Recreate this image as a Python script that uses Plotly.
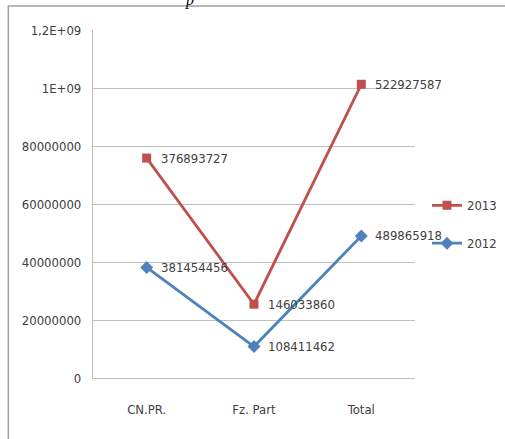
import numpy as np
import plotly.graph_objects as go

categories = ["CN.PR.", "Fz. Part", "Total"]
values_2012 = [381454456, 108411462, 489865918]
values_2013 = [376893727, 146033860, 522927587]
tick_vals = [0, 200000000, 400000000, 600000000, 800000000, 1000000000, 1200000000]
tick_text = ["0", "20000000", "40000000", "60000000", "80000000", "1E+09", "1,2E+09"]

FONT = "DejaVu Sans Condensed, sans-serif"
TXT = "#404040"
RED = "#C0504D"
BLUE = "#4F81BD"

# stacked line chart: 2013 sits on top of 2012
stack_2013 = (np.array(values_2012) + np.array(values_2013)).tolist()

fig = go.Figure()
fig.add_trace(go.Scatter(
    x=categories, y=stack_2013, name="2013", mode="lines+markers",
    legendgroup="a",
    line=dict(color=RED, width=2.8),
    marker=dict(symbol="square", size=9, color=RED),
))
fig.add_trace(go.Scatter(
    x=categories, y=values_2012, name="2012", mode="lines+markers",
    legendgroup="b",
    line=dict(color=BLUE, width=2.8),
    marker=dict(symbol="diamond", size=10, color=BLUE),
))

# data labels: each series' own value, placed right of its point
labels = []
for ys, vals in ((stack_2013, values_2013), (values_2012, values_2012)):
    for cat, y, v in zip(categories, ys, vals):
        labels.append(dict(x=cat, y=y, text=str(v), xref="x", yref="y",
                           xanchor="left", yanchor="middle", xshift=12,
                           showarrow=False,
                           font=dict(family=FONT, size=13, color=TXT)))

labels.append(dict(text="<i>p</i>", xref="paper", yref="paper",
                   x=0.30, y=1.086, xanchor="center", yanchor="middle",
                   showarrow=False,
                   font=dict(family="Liberation Serif", size=16, color="black")))

fig.update_layout(
    width=505, height=439,
    margin=dict(l=93, r=89, t=30, b=61),
    paper_bgcolor="white", plot_bgcolor="white",
    font=dict(family=FONT, size=13, color=TXT),
    showlegend=True,
    legend=dict(xref="container", yref="container",
                x=0.994, y=0.489, xanchor="right", yanchor="middle",
                font=dict(family=FONT, size=13, color=TXT),
                itemwidth=30, tracegroupgap=18, bgcolor="rgba(0,0,0,0)"),
    shapes=[dict(type="rect", xref="paper", yref="paper",
                 x0=-0.263, x1=1.5, y0=-0.3, y1=1.069,
                 line=dict(color="#A0A0A0", width=1.5), layer="below")],
    annotations=labels,
)

fig.update_xaxes(
    type="category", range=[-0.5, 2.5],
    showgrid=False, showline=True, linecolor="#BFBFBF", linewidth=1.2,
    ticks="", ticklabelstandoff=19,
    tickfont=dict(family=FONT, size=13, color=TXT),
)
fig.update_yaxes(
    range=[0, 1200000000], tickvals=tick_vals, ticktext=tick_text,
    showgrid=True, gridcolor="#BFBFBF", gridwidth=1.2,
    showline=True, linecolor="#BFBFBF", linewidth=1.2,
    zeroline=False, ticks="", ticklabelstandoff=8,
    tickfont=dict(family=FONT, size=13, color=TXT),
)

fig.write_html("out.html")
